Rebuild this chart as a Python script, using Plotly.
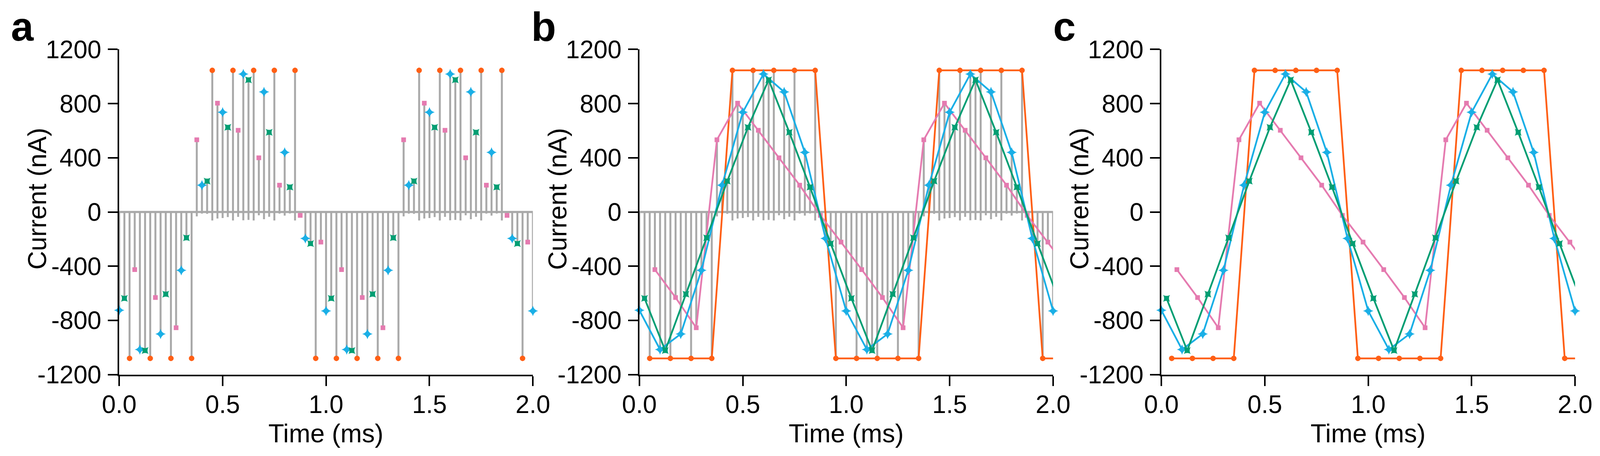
import plotly.graph_objects as go

# ---------------- data ----------------
T_BLUE = [0.0, 0.1, 0.2, 0.3, 0.4, 0.5, 0.6, 0.7, 0.8, 0.9, 1.0,
          1.1, 1.2, 1.3, 1.4, 1.5, 1.6, 1.7, 1.8, 1.9, 2.0]
I_BLUE = [-725, -1015, -900, -430, 198, 736, 1018, 886, 440, -195, -730,
          -1015, -900, -430, 198, 736, 1018, 886, 440, -195, -730]

T_GREEN = [0.025, 0.125, 0.225, 0.325, 0.425, 0.525, 0.625, 0.725, 0.825, 0.925,
           1.025, 1.125, 1.225, 1.325, 1.425, 1.525, 1.625, 1.725, 1.825, 1.925, 2.025]
I_GREEN = [-637, -1022, -606, -190, 228, 625, 975, 588, 184, -233,
           -637, -1022, -606, -190, 228, 625, 975, 588, 184, -233, -637]

T_ORANGE = [0.05, 0.15, 0.25, 0.35, 0.45, 0.55, 0.65, 0.75, 0.85, 0.95,
            1.05, 1.15, 1.25, 1.35, 1.45, 1.55, 1.65, 1.75, 1.85, 1.95, 2.05]
I_ORANGE = [-1080, -1080, -1080, -1080, 1045, 1045, 1045, 1045, 1045, -1080,
            -1080, -1080, -1080, -1080, 1045, 1045, 1045, 1045, 1045, -1080, -1080]

T_PINK = [0.075, 0.175, 0.275, 0.375, 0.475, 0.575, 0.675, 0.775, 0.875, 0.975,
          1.075, 1.175, 1.275, 1.375, 1.475, 1.575, 1.675, 1.775, 1.875, 1.975, 2.075]
I_PINK = [-425, -631, -854, 533, 803, 603, 400, 198, -25, -222,
          -425, -631, -854, 533, 803, 603, 400, 198, -25, -222, -425]

X_RANGE = [0.0, 2.0]
Y_RANGE = [-1200, 1200]
X_TICKS = [0.0, 0.5, 1.0, 1.5, 2.0]
X_TICK_LABELS = ["0.0", "0.5", "1.0", "1.5", "2.0"]
Y_TICKS = [-1200, -800, -400, 0, 400, 800, 1200]
Y_TICK_LABELS = ["-1200", "-800", "-400", "0", "400", "800", "1200"]

PANEL_LABELS = ["a", "b", "c"]
X_TITLE = "Time (ms)"
Y_TITLE = "Current (nA)"

# ---------------- styling ----------------
W, H = 4311, 1167          # reference canvas (used only to express fractions)
FONT = "Liberation Sans, Arial, sans-serif"
GRAY = "#A9A9A9"
SERIES = [
    # name, times, values, colour, symbol, size
    ("orange", T_ORANGE, I_ORANGE, "#FF5F15", "circle", 14),
    ("pink", T_PINK, I_PINK, "#E57BB0", "square", 12),
    ("blue", T_BLUE, I_BLUE, "#1AAFE6", "star-diamond", 19),
    ("green", T_GREEN, I_GREEN, "#009E73", "star-square", 16),
]

# pixel geometry of the three plot areas in the reference
PLOT_LEFT = [314, 1721, 3133]
PLOT_WIDTH = 1119
PLOT_TOP, PLOT_BOTTOM = 120, 964


def px(x):
    return x / W


def py(y):
    return 1 - y / H


fig = go.Figure()

for k in range(3):
    xa = "x" if k == 0 else f"x{k + 1}"
    ya = "y" if k == 0 else f"y{k + 1}"

    # gray current trace (panels a and b)
    if k < 2:
        fig.add_trace(go.Scatter(
            x=X_RANGE, y=[0, 0], mode="lines",
            line=dict(color=GRAY, width=5.5), xaxis=xa, yaxis=ya,
            showlegend=False, hoverinfo="skip"))
        sx, sy = [], []
        for _, ts, vs, _, _, _ in SERIES:
            for t, v in zip(ts, vs):
                if X_RANGE[0] <= t <= X_RANGE[1]:
                    dip = -0.06 * v if v > 0 else 0
                    sx += [t, t, None]
                    sy += [dip, v, None]
        fig.add_trace(go.Scatter(
            x=sx, y=sy, mode="lines",
            line=dict(color=GRAY, width=5), xaxis=xa, yaxis=ya,
            showlegend=False, hoverinfo="skip"))

    for name, ts, vs, col, sym, size in SERIES:
        if k > 0:
            fig.add_trace(go.Scatter(
                x=ts, y=vs, mode="lines",
                line=dict(color=col, width=4.5), xaxis=xa, yaxis=ya,
                showlegend=False, hoverinfo="skip"))
        inside = [(t, v) for t, v in zip(ts, vs) if X_RANGE[0] <= t <= X_RANGE[1]]
        fig.add_trace(go.Scatter(
            x=[p[0] for p in inside], y=[p[1] for p in inside], mode="markers",
            marker=dict(color=col, symbol=sym, size=size, line=dict(width=0)),
            xaxis=xa, yaxis=ya, cliponaxis=False,
            showlegend=False, hoverinfo="skip"))

axis_common = dict(
    showgrid=False, zeroline=False, showline=True, linecolor="black",
    linewidth=4, ticks="outside", ticklen=25, tickwidth=4, tickcolor="black",
    tickfont=dict(family=FONT, size=64, color="black"), mirror=False,
    automargin=False,
)

layout = dict(
    autosize=True, margin=dict(l=0, r=0, t=0, b=0, autoexpand=False),
    paper_bgcolor="white", plot_bgcolor="white", showlegend=False,
    annotations=[],
)

for k in range(3):
    xs = "xaxis" if k == 0 else f"xaxis{k + 1}"
    ys = "yaxis" if k == 0 else f"yaxis{k + 1}"
    xa = "x" if k == 0 else f"x{k + 1}"
    ya = "y" if k == 0 else f"y{k + 1}"
    left = PLOT_LEFT[k]
    layout[xs] = dict(axis_common, domain=[px(left), px(left + PLOT_WIDTH)],
                      range=X_RANGE, tickvals=X_TICKS, ticktext=X_TICK_LABELS,
                      anchor=ya, ticklabelstandoff=-8)
    layout[ys] = dict(axis_common, domain=[py(PLOT_BOTTOM), py(PLOT_TOP)],
                      range=Y_RANGE, tickvals=Y_TICKS, ticktext=Y_TICK_LABELS,
                      anchor=xa, ticklabelstandoff=4)
    # panel letter
    layout["annotations"].append(dict(
        text=f"<b>{PANEL_LABELS[k]}</b>", xref="paper", yref="paper",
        x=px(left - 295), y=1.0, xanchor="left", yanchor="top",
        showarrow=False, font=dict(family=FONT, size=104, color="black")))
    # x title
    layout["annotations"].append(dict(
        text=X_TITLE, xref="paper", yref="paper",
        x=px(left + PLOT_WIDTH / 2), y=py(1116), xanchor="center", yanchor="middle",
        showarrow=False, font=dict(family=FONT, size=66, color="black")))
    # y title
    layout["annotations"].append(dict(
        text=Y_TITLE, xref="paper", yref="paper", textangle=-90,
        x=px(left - 222), y=py(508), xanchor="center", yanchor="middle",
        showarrow=False, font=dict(family=FONT, size=66, color="black")))

fig.update_layout(**layout)
fig.write_html("out.html")
